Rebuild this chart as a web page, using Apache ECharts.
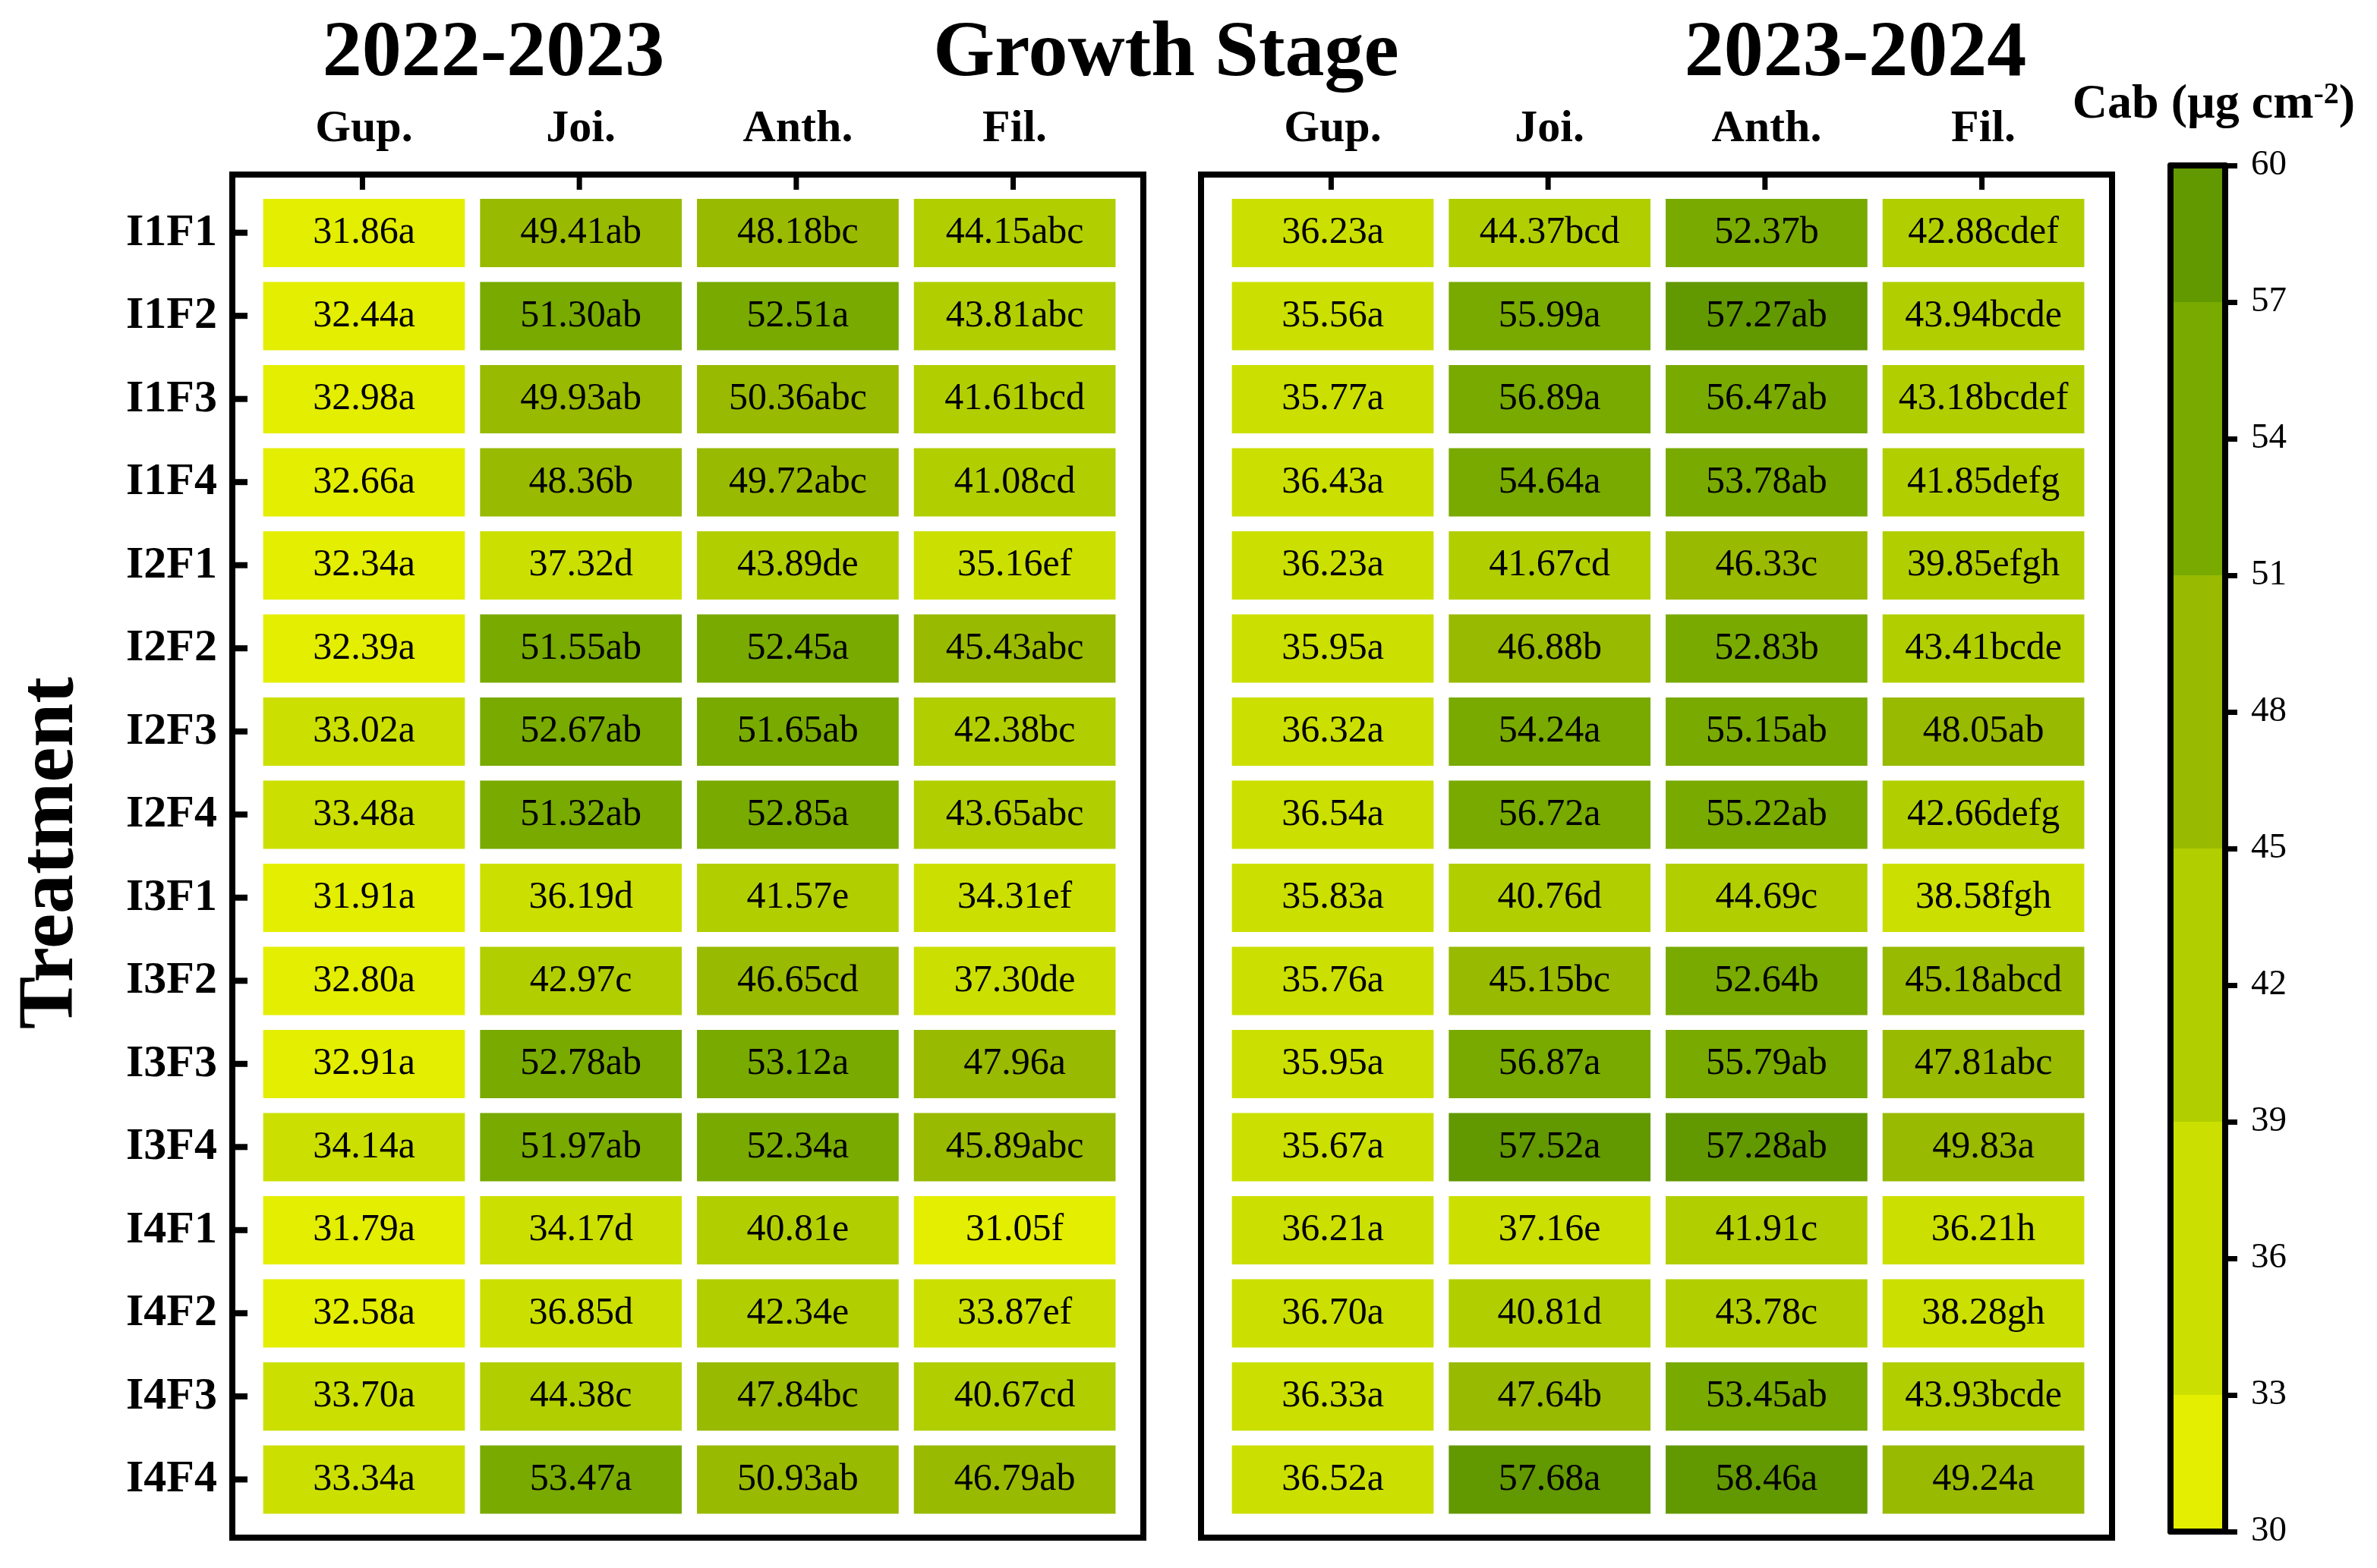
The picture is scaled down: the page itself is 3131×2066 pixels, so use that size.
<!DOCTYPE html>
<html>
<head>
<meta charset="utf-8">
<script src="https://cdn.jsdelivr.net/npm/echarts@6.0.0/dist/echarts.min.js"></script>
<style>
  html, body { margin: 0; padding: 0; background: #fff; }
  #chart { width: 3131px; height: 2066px; }
</style>
</head>
<body>
<div id="chart"></div>
<script>
const treatments = ['I1F1', 'I1F2', 'I1F3', 'I1F4', 'I2F1', 'I2F2', 'I2F3', 'I2F4',
                    'I3F1', 'I3F2', 'I3F3', 'I3F4', 'I4F1', 'I4F2', 'I4F3', 'I4F4'];
const stages = ['Gup.', 'Joi.', 'Anth.', 'Fil.'];

// 2022-2023, rows = treatments, cols = stages
const cab2223 = [
  [31.86, 49.41, 48.18, 44.15], [32.44, 51.30, 52.51, 43.81], [32.98, 49.93, 50.36, 41.61], [32.66, 48.36, 49.72, 41.08],
  [32.34, 37.32, 43.89, 35.16], [32.39, 51.55, 52.45, 45.43], [33.02, 52.67, 51.65, 42.38], [33.48, 51.32, 52.85, 43.65],
  [31.91, 36.19, 41.57, 34.31], [32.80, 42.97, 46.65, 37.30], [32.91, 52.78, 53.12, 47.96], [34.14, 51.97, 52.34, 45.89],
  [31.79, 34.17, 40.81, 31.05], [32.58, 36.85, 42.34, 33.87], [33.70, 44.38, 47.84, 40.67], [33.34, 53.47, 50.93, 46.79]
];
const sig2223 = [
  ['a', 'ab', 'bc', 'abc'], ['a', 'ab', 'a', 'abc'], ['a', 'ab', 'abc', 'bcd'], ['a', 'b', 'abc', 'cd'],
  ['a', 'd', 'de', 'ef'], ['a', 'ab', 'a', 'abc'], ['a', 'ab', 'ab', 'bc'], ['a', 'ab', 'a', 'abc'],
  ['a', 'd', 'e', 'ef'], ['a', 'c', 'cd', 'de'], ['a', 'ab', 'a', 'a'], ['a', 'ab', 'a', 'abc'],
  ['a', 'd', 'e', 'f'], ['a', 'd', 'e', 'ef'], ['a', 'c', 'bc', 'cd'], ['a', 'a', 'ab', 'ab']
];

// 2023-2024
const cab2324 = [
  [36.23, 44.37, 52.37, 42.88], [35.56, 55.99, 57.27, 43.94], [35.77, 56.89, 56.47, 43.18], [36.43, 54.64, 53.78, 41.85],
  [36.23, 41.67, 46.33, 39.85], [35.95, 46.88, 52.83, 43.41], [36.32, 54.24, 55.15, 48.05], [36.54, 56.72, 55.22, 42.66],
  [35.83, 40.76, 44.69, 38.58], [35.76, 45.15, 52.64, 45.18], [35.95, 56.87, 55.79, 47.81], [35.67, 57.52, 57.28, 49.83],
  [36.21, 37.16, 41.91, 36.21], [36.70, 40.81, 43.78, 38.28], [36.33, 47.64, 53.45, 43.93], [36.52, 57.68, 58.46, 49.24]
];
const sig2324 = [
  ['a', 'bcd', 'b', 'cdef'], ['a', 'a', 'ab', 'bcde'], ['a', 'a', 'ab', 'bcdef'], ['a', 'a', 'ab', 'defg'],
  ['a', 'cd', 'c', 'efgh'], ['a', 'b', 'b', 'bcde'], ['a', 'a', 'ab', 'ab'], ['a', 'a', 'ab', 'defg'],
  ['a', 'd', 'c', 'fgh'], ['a', 'bc', 'b', 'abcd'], ['a', 'a', 'ab', 'abc'], ['a', 'a', 'ab', 'a'],
  ['a', 'e', 'c', 'h'], ['a', 'd', 'c', 'gh'], ['a', 'b', 'ab', 'bcde'], ['a', 'a', 'a', 'a']
];

const bandEdges = [30, 33, 39, 45, 51, 57, 60];
const bandColors = ['#e4ee00', '#cbe000', '#b1cf00', '#98ba00', '#78aa00', '#629800'];

const serif = '"Liberation Serif", "Times New Roman", serif';
const chart = echarts.init(document.getElementById('chart'));

function buildCells(vals, sigs) {
  let data = [], labels = [];
  vals.forEach((row, i) => {
    row.forEach((v, j) => {
      data.push([j, i, v]);
      labels.push(v.toFixed(2) + sigs[i][j]);
    });
  });
  return { data: data, labels: labels };
}
const cells2223 = buildCells(cab2223, sig2223);
const cells2324 = buildCells(cab2324, sig2324);

function cellRenderer(labels) {
  return function (params, api) {
    const c = api.coord([api.value(0), api.value(1)]);
    const s = api.size([1, 1]);
    const w = s[0] * 0.93, h = s[1] * 0.82;
    return {
      type: 'rect',
      shape: { x: c[0] - w / 2, y: c[1] - h / 2, width: w, height: h },
      style: { fill: api.visual('color') },
      textContent: {
        style: { text: labels[params.dataIndex], fontFamily: serif, fontSize: 50, fill: '#000' }
      },
      textConfig: { position: 'inside' }
    };
  };
}

const bandData = bandColors.map((c, i) => [bandEdges[i], bandEdges[i + 1]]);
const rowTicks = treatments.map((t, i) => [i]);
const colTicks = stages.map((t, i) => [i]);

const lineW = 8;
const tickLen = 16;
const hidden = { show: false };
const ghostLine = { show: true, onZero: false, lineStyle: { color: 'rgba(0,0,0,0)', width: 1 } };

// frame grid: black box, its hidden axes span the padded range around the cells
const xMin = -0.6, xMax = 3.6, yMin = -0.7, yMax = 15.7;
const colPitch = 285.7, rowPitch = 109.5;
const padX = 173.5, padY = 77;
function frameGrid(left) {
  return { left: left, top: 230, width: 1200, height: 1796, show: true, borderColor: '#000', borderWidth: lineW };
}
function cellGrid(left) {
  return { left: left + padX, top: 230 + padY, width: colPitch * 3, height: rowPitch * 15 };
}
function stageAxis(gi) {
  return {
    gridIndex: gi, type: 'value', position: 'top', min: 0, max: 3, interval: 1, offset: padY, z: 10,
    axisLine: ghostLine, axisTick: hidden,
    axisLabel: { show: true, margin: 30, formatter: v => stages[v], fontFamily: serif, fontWeight: 'bold', fontSize: 60, color: '#000' },
    splitLine: hidden
  };
}
function treatAxis(gi, withLabels) {
  return {
    gridIndex: gi, type: 'value', position: 'left', inverse: true, min: 0, max: 15, interval: 1, offset: padX, z: 10,
    axisLine: ghostLine, axisTick: hidden,
    axisLabel: { show: withLabels, margin: 20, formatter: v => treatments[v], fontFamily: serif, fontWeight: 'bold', fontSize: 60, color: '#000' },
    splitLine: hidden
  };
}
const plainLine = { show: true, onZero: false, lineStyle: { color: '#000', width: lineW } };

function rowTickSeries(ai) {
  return {
    type: 'custom', xAxisIndex: ai, yAxisIndex: ai, clip: false, z: 6, silent: true, data: rowTicks,
    renderItem: function (params, api) {
      const p = api.coord([xMin, api.value(0)]);
      return { type: 'line', shape: { x1: p[0], y1: p[1], x2: p[0] + tickLen + lineW / 2, y2: p[1] },
               style: { stroke: '#000', lineWidth: 8 } };
    }
  };
}
function colTickSeries(ai) {
  return {
    type: 'custom', xAxisIndex: ai, yAxisIndex: ai, clip: false, z: 6, silent: true, data: colTicks,
    renderItem: function (params, api) {
      const p = api.coord([api.value(0), yMin]);
      return { type: 'line', shape: { x1: p[0], y1: p[1], x2: p[0], y2: p[1] + tickLen + lineW / 2 },
               style: { stroke: '#000', lineWidth: 7 } };
    }
  };
}
function frameX(gi) { return { gridIndex: gi, type: 'value', min: xMin, max: xMax, show: false }; }
function frameY(gi) { return { gridIndex: gi, type: 'value', min: yMin, max: yMax, inverse: true, show: false }; }

const option = {
  backgroundColor: '#fff',
  animation: false,
  grid: [
    frameGrid(306),
    frameGrid(1582),
    cellGrid(306),
    cellGrid(1582),
    { left: 2859, top: 218, width: 72, height: 1800 }
  ],
  xAxis: [
    frameX(0),
    frameX(1),
    stageAxis(2),
    stageAxis(3),
    { gridIndex: 4, type: 'value', min: 0, max: 1, position: 'bottom', z: 10,
      axisLine: plainLine, axisTick: hidden, axisLabel: hidden, splitLine: hidden },
    { gridIndex: 4, type: 'value', min: 0, max: 1, position: 'top', z: 10,
      axisLine: plainLine, axisTick: hidden, axisLabel: hidden, splitLine: hidden }
  ],
  yAxis: [
    frameY(0),
    frameY(1),
    treatAxis(2, true),
    treatAxis(3, false),
    { gridIndex: 4, type: 'value', min: 30, max: 60, interval: 3, position: 'right', z: 10,
      axisLine: plainLine,
      axisTick: { show: true, inside: false, length: 16, lineStyle: { color: '#000', width: 7 } },
      axisLabel: { show: true, margin: 34, fontFamily: serif, fontSize: 47, color: '#000' },
      splitLine: hidden },
    { gridIndex: 4, type: 'value', min: 30, max: 60, interval: 3, position: 'left', z: 10,
      axisLine: plainLine, axisTick: hidden, axisLabel: hidden, splitLine: hidden }
  ],
  visualMap: {
    type: 'piecewise', show: false, dimension: 2, seriesIndex: [0, 1],
    pieces: bandColors.map((c, i) => ({ gte: bandEdges[i], lt: bandEdges[i + 1], color: c }))
  },
  series: [
    { name: '2022-2023', type: 'custom', xAxisIndex: 2, yAxisIndex: 2, clip: false,
      renderItem: cellRenderer(cells2223.labels), data: cells2223.data },
    { name: '2023-2024', type: 'custom', xAxisIndex: 3, yAxisIndex: 3, clip: false,
      renderItem: cellRenderer(cells2324.labels), data: cells2324.data },
    { name: 'colorbar', type: 'custom', xAxisIndex: 4, yAxisIndex: 4, z: 1,
      renderItem: function (params, api) {
        const p1 = api.coord([0, api.value(0)]);
        const p2 = api.coord([1, api.value(1)]);
        return {
          type: 'rect',
          shape: { x: p1[0], y: p2[1], width: p2[0] - p1[0], height: p1[1] - p2[1] },
          style: { fill: bandColors[params.dataIndex] }
        };
      },
      data: bandData },
    rowTickSeries(0),
    colTickSeries(0),
    colTickSeries(1)
  ],
  graphic: [
    { type: 'text', x: 650, y: 72, style: { text: '2022-2023', fontFamily: serif, fontWeight: 'bold', fontSize: 104, fill: '#000', align: 'center', verticalAlign: 'middle' } },
    { type: 'text', x: 1536, y: 72, style: { text: 'Growth Stage', fontFamily: serif, fontWeight: 'bold', fontSize: 104, fill: '#000', align: 'center', verticalAlign: 'middle' } },
    { type: 'text', x: 2444, y: 72, style: { text: '2023-2024', fontFamily: serif, fontWeight: 'bold', fontSize: 104, fill: '#000', align: 'center', verticalAlign: 'middle' } },
    { type: 'text', x: 68, y: 1124, rotation: Math.PI / 2, style: { text: 'Treatment', fontFamily: serif, fontWeight: 'bold', fontSize: 104, fill: '#000', align: 'center', verticalAlign: 'middle' } },
    { type: 'text', x: 2916, y: 138, style: {
        text: '{b|Cab (µg cm}{s|-2}{b|)}', align: 'center', verticalAlign: 'middle',
        rich: {
          b: { fontFamily: serif, fontWeight: 'bold', fontSize: 64, fill: '#000' },
          s: { fontFamily: serif, fontWeight: 'bold', fontSize: 40, fill: '#000', verticalAlign: 'top' }
        }
      } }
  ]
};

chart.setOption(option);
</script>
</body>
</html>
